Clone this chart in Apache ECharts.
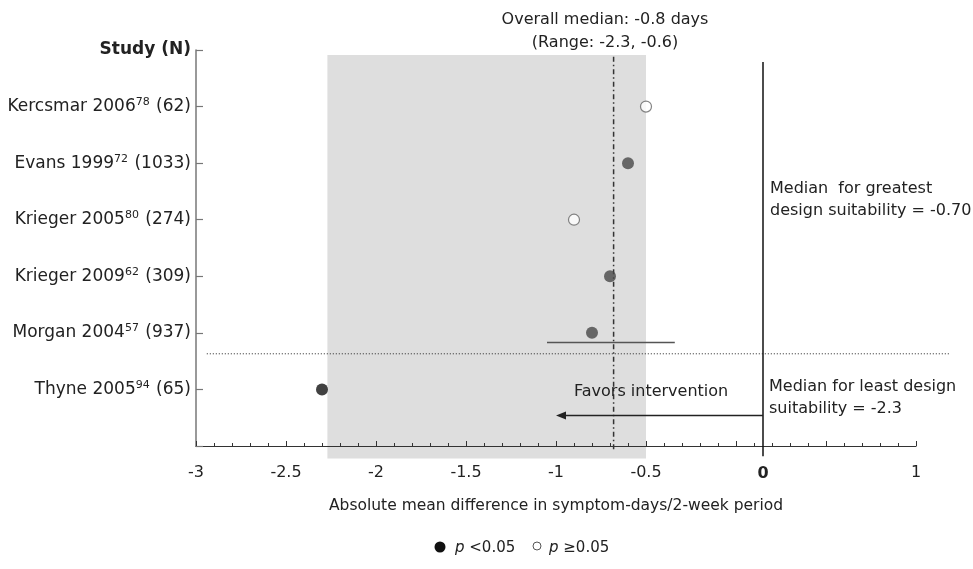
<!DOCTYPE html>
<html>
<head>
<meta charset="utf-8">
<script src="https://cdn.jsdelivr.net/npm/echarts@6/dist/echarts.min.js"></script>
<style>
  html, body { margin: 0; padding: 0; background: #fff; }
  #chart { width: 973px; height: 569px; }
</style>
</head>
<body>
<div id="chart"></div>
<script>
// study rows, top to bottom
const studies = ['Kercsmar 2006', 'Evans 1999', 'Krieger 2005', 'Krieger 2009', 'Morgan 2004', 'Thyne 2005']
const refNums = ['78', '72', '80', '62', '57', '94']
const sampleN = [62, 1033, 274, 309, 937, 65]
const effect = [-0.5, -0.6, -0.9, -0.7, -0.8, -2.3]
const pSig = [false, true, false, true, true, true]
const ciLow = [null, null, null, null, -1.05, null]
const ciHigh = [null, null, null, null, -0.34, null]

// x tick labels shown on the axis
const xTickLabels = [-3, -2.5, -2, -1.5, -1, -0.5, 1]

// reference marks (in axis units)
const medianLine = -0.68
const rangeBand = [-2.27, -0.5]
const zeroLineAt = 0.15
const arrowTo = -1.0
const splitRow = 5.37

const font = 'DejaVu Sans'
const textColor = '#222'

const chart = echarts.init(document.getElementById('chart'))

const sigData = []
const nsData = []
effect.forEach((v, i) => {
  if (pSig[i]) {
    sigData.push({ value: [v, i + 1], itemStyle: { color: v < -2 ? '#111' : '#474747' } })
  } else {
    nsData.push([v, i + 1])
  }
})

chart.setOption({
  animation: false,
  textStyle: { fontFamily: font, color: textColor },
  grid: { left: 196, right: 57, top: 50, bottom: 123 },
  xAxis: {
    type: 'value',
    min: -3,
    max: 1,
    interval: 0.5,
    z: 2,
    splitLine: { show: false },
    axisLine: { onZero: false, lineStyle: { color: '#333', width: 1.2 } },
    axisTick: { inside: true, length: 5, lineStyle: { color: '#333' } },
    minorTick: { show: true, splitNumber: 5, length: 3, lineStyle: { color: '#333' } },
    axisLabel: {
      margin: 19,
      fontSize: 16,
      color: textColor,
      formatter: v => (xTickLabels.indexOf(v) >= 0 ? String(v) : '')
    },
    name: 'Absolute mean difference in symptom-days/2-week period',
    nameLocation: 'middle',
    nameGap: 52,
    nameTextStyle: { fontSize: 15.5, color: textColor }
  },
  yAxis: {
    type: 'value',
    min: 0,
    max: 7,
    interval: 1,
    inverse: true,
    z: 2,
    splitLine: { show: false },
    axisLine: { show: true, onZero: false, lineStyle: { color: '#777', width: 1.5 } },
    axisTick: { inside: true, length: 7, lineStyle: { color: '#777', width: 1.2 } },
    axisLabel: {
      margin: 5,
      fontSize: 17,
      lineHeight: 22,
      color: textColor,
      formatter: v => {
        if (v === 0) return '{b|Study (N)}'
        const i = v - 1
        if (i >= studies.length) return ''
        return studies[i] + '{s|' + refNums[i] + '} (' + sampleN[i] + ')'
      },
      rich: {
        b: { fontSize: 17, fontWeight: 'bold', color: textColor, fontFamily: font },
        s: { fontSize: 11, lineHeight: 11, verticalAlign: 'top', color: textColor, fontFamily: font, padding: [1, 1, 0, 0] }
      }
    }
  },
  series: [
    {
      type: 'custom',
      z: 1,
      silent: true,
      data: [0],
      renderItem: (params, api) => {
        const a = api.coord([rangeBand[0], 0.09])
        const b = api.coord([rangeBand[1], 7.22])
        return {
          type: 'rect',
          shape: { x: a[0], y: a[1], width: b[0] - a[0], height: b[1] - a[1] },
          style: { fill: '#dedede' }
        }
      }
    },
    {
      type: 'custom',
      z: 3,
      silent: true,
      data: [0],
      renderItem: (params, api) => {
        const c = (x, y) => api.coord([x, y])
        const children = []
        // overall median, dash-dot
        const m0 = c(medianLine, 0.12)
        const m1 = c(medianLine, 7.1)
        children.push({
          type: 'line',
          shape: { x1: m0[0], y1: m0[1], x2: m1[0], y2: m1[1] },
          style: { stroke: '#333', lineWidth: 1.5, lineDash: [5, 3, 1.5, 3] }
        })
        // zero reference line
        const z0 = c(zeroLineAt, 0.21)
        const z1 = c(zeroLineAt, 7.18)
        children.push({
          type: 'line',
          shape: { x1: z0[0], y1: z0[1], x2: z1[0], y2: z1[1] },
          style: { stroke: '#111', lineWidth: 1.5 }
        })
        const zl = c(zeroLineAt, 7)
        children.push({
          type: 'text',
          style: {
            x: zl[0], y: zl[1] + 28, text: '0', align: 'center', verticalAlign: 'middle',
            font: 'bold 16px "' + font + '"', fill: textColor
          }
        })
        // split between design suitability groups, dotted
        const d0 = c(-2.94, splitRow)
        const d1 = c(1.19, splitRow)
        children.push({
          type: 'line',
          shape: { x1: d0[0], y1: d0[1], x2: d1[0], y2: d1[1] },
          style: { stroke: '#222', lineWidth: 1, lineDash: [1, 2] }
        })
        // favors intervention arrow
        const a0 = c(zeroLineAt, 6.46)
        const a1 = c(arrowTo, 6.46)
        children.push({
          type: 'line',
          shape: { x1: a0[0], y1: a0[1], x2: a1[0] + 6, y2: a1[1] },
          style: { stroke: '#222', lineWidth: 1.5 }
        })
        children.push({
          type: 'polygon',
          shape: { points: [[a1[0], a1[1]], [a1[0] + 10, a1[1] - 4], [a1[0] + 10, a1[1] + 4]] },
          style: { fill: '#222' }
        })
        // confidence intervals
        effect.forEach((v, i) => {
          if (ciLow[i] == null) return
          const p0 = c(ciLow[i], i + 1.17)
          const p1 = c(ciHigh[i], i + 1.17)
          children.push({
            type: 'line',
            shape: { x1: p0[0], y1: p0[1], x2: p1[0], y2: p1[1] },
            style: { stroke: '#555', lineWidth: 1.5 }
          })
        })
        return { type: 'group', children }
      }
    },
    {
      name: 'p<0.05',
      type: 'scatter',
      z: 4,
      symbol: 'circle',
      symbolSize: 12,
      data: sigData
    },
    {
      name: 'p>=0.05',
      type: 'scatter',
      z: 4,
      symbol: 'circle',
      symbolSize: 11,
      itemStyle: { color: '#fff', borderColor: '#666', borderWidth: 1.2 },
      data: nsData
    }
  ],
  graphic: [
    { type: 'text', x: 605, y: 20, style: { text: 'Overall median: -0.8 days', align: 'center', verticalAlign: 'middle', font: '16px "' + font + '"', fill: textColor } },
    { type: 'text', x: 605, y: 43, style: { text: '(Range: -2.3, -0.6)', align: 'center', verticalAlign: 'middle', font: '16px "' + font + '"', fill: textColor } },
    { type: 'text', x: 770, y: 189, style: { text: 'Median  for greatest', verticalAlign: 'middle', font: '16px "' + font + '"', fill: textColor } },
    { type: 'text', x: 770, y: 211, style: { text: 'design suitability = -0.70', verticalAlign: 'middle', font: '16px "' + font + '"', fill: textColor } },
    { type: 'text', x: 769, y: 387, style: { text: 'Median for least design', verticalAlign: 'middle', font: '16px "' + font + '"', fill: textColor } },
    { type: 'text', x: 769, y: 409, style: { text: 'suitability = -2.3', verticalAlign: 'middle', font: '16px "' + font + '"', fill: textColor } },
    { type: 'text', x: 574, y: 392, z: 10, style: { text: 'Favors intervention', verticalAlign: 'middle', font: '16px "' + font + '"', fill: textColor } },
    // legend
    { type: 'circle', shape: { cx: 440, cy: 547, r: 5.5 }, style: { fill: '#111' } },
    {
      type: 'text', x: 455, y: 548,
      style: {
        text: '{i|p} <0.05', verticalAlign: 'middle', font: '15px "' + font + '"', fill: textColor,
        rich: { i: { fontStyle: 'italic', fontSize: 15, fontFamily: font } }
      }
    },
    { type: 'circle', shape: { cx: 537, cy: 546, r: 4 }, style: { fill: '#fff', stroke: '#555', lineWidth: 1 } },
    {
      type: 'text', x: 549, y: 548,
      style: {
        text: '{i|p} \u22650.05', verticalAlign: 'middle', font: '15px "' + font + '"', fill: textColor,
        rich: { i: { fontStyle: 'italic', fontSize: 15, fontFamily: font } }
      }
    }
  ]
})
</script>
</body>
</html>
